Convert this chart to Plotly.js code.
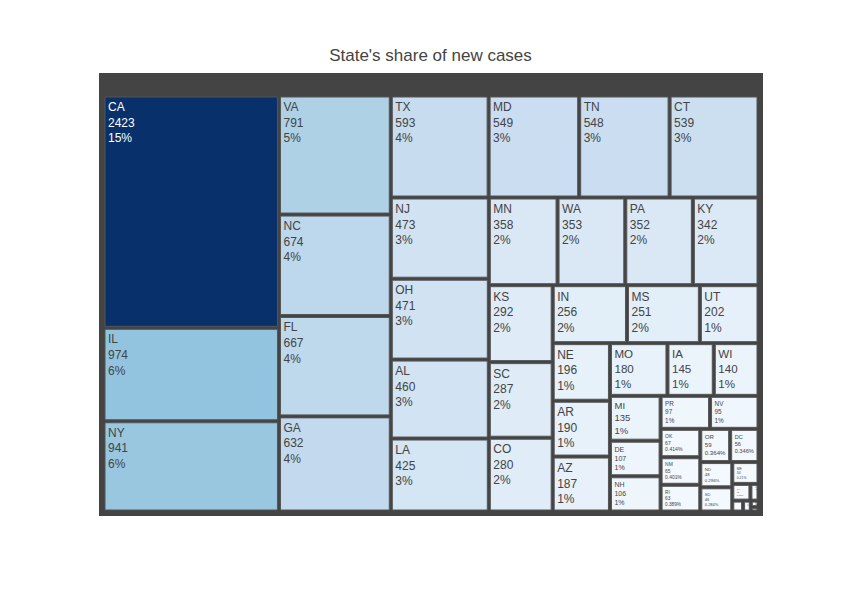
<!DOCTYPE html>
<html>
<head>
<meta charset="utf-8">
<script src="https://cdn.plot.ly/plotly-3.0.1.min.js"></script>
<style>html,body{margin:0;padding:0;background:#fff;}</style>
</head>
<body>
<div id="chart" style="width:861px;height:615px;"></div>
<script>
const states = ["CA","IL","NY","VA","NC","FL","GA","TX","NJ","OH","AL","LA","MD","TN","CT",
  "MN","WA","PA","KY","KS","SC","CO","IN","MS","UT","NE","MO","IA","WI","AR","AZ",
  "MI","DE","NH","PR","NV","OK","OR","DC","NM","ND","RI","SD","ME","WV","HI","VT","MT","WY","AK"];
const newCases = [2423,974,941,791,674,667,632,593,473,471,460,425,549,548,539,
  358,353,352,342,292,287,280,256,251,202,196,180,145,140,190,187,
  135,107,106,97,95,67,59,56,65,48,63,46,34,18,8,7,5,3,2];
const rootLabel = "";

const labels = [rootLabel].concat(states);
const parents = [""].concat(states.map(() => rootLabel));
const total = newCases.reduce((a, b) => a + b, 0);
const values = [total].concat(newCases);
const colors = [null].concat(newCases);

const blues = [[0,'#f7fbff'],[0.125,'#deebf7'],[0.25,'#c6dbef'],[0.375,'#9ecae1'],
  [0.5,'#6baed6'],[0.625,'#4292c6'],[0.75,'#2171b5'],[0.875,'#08519c'],[1,'#08306b']];

const trace = {
  type: 'treemap',
  labels: labels,
  parents: parents,
  values: values,
  branchvalues: 'total',
  textinfo: 'label+value+percent root',
  marker: { colors: colors, colorscale: blues, showscale: false, line: { color: '#555', width: 1 } },
  root: { color: '#444' },
  pathbar: { visible: false }
};

const layout = {
  width: 861, height: 615,
  font: { family: 'Liberation Sans, Arial, sans-serif', color: '#444' },
  title: { text: "State's share of new cases", font: { size: 17 }, x: 0.5, xanchor: 'center', y: 0.91, yanchor: 'middle' },
  margin: { l: 99, r: 98, t: 73, b: 99 },
  paper_bgcolor: '#fff'
};

Plotly.newPlot('chart', [trace], layout, { displayModeBar: false });
</script>
</body>
</html>
